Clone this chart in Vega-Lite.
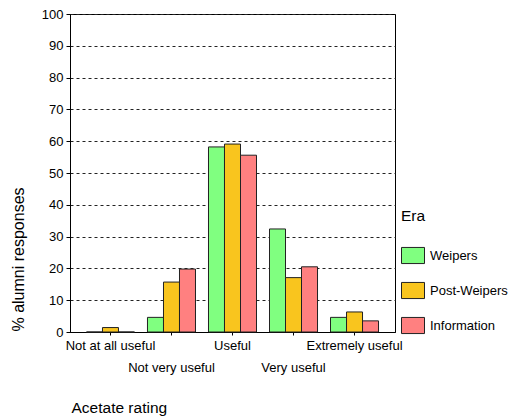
{
  "$schema": "https://vega.github.io/schema/vega-lite/v6.json",
  "width": 325,
  "height": 318,
  "autosize": {"type": "none"},
  "padding": {"left": 70, "top": 14, "right": 116, "bottom": 86},
  "background": "white",
  "config": {
    "font": "Liberation Sans",
    "view": {"stroke": "#000", "strokeWidth": 1}
  },
  "data": {
    "values": [
      {"rating": "Not at all useful", "era": "Weipers", "pct": 0},
      {"rating": "Not at all useful", "era": "Post-Weipers", "pct": 1.4},
      {"rating": "Not at all useful", "era": "Information", "pct": 0},
      {"rating": "Not very useful", "era": "Weipers", "pct": 4.6},
      {"rating": "Not very useful", "era": "Post-Weipers", "pct": 15.7},
      {"rating": "Not very useful", "era": "Information", "pct": 19.8},
      {"rating": "Useful", "era": "Weipers", "pct": 58.2},
      {"rating": "Useful", "era": "Post-Weipers", "pct": 59.1},
      {"rating": "Useful", "era": "Information", "pct": 55.6},
      {"rating": "Very useful", "era": "Weipers", "pct": 32.4},
      {"rating": "Very useful", "era": "Post-Weipers", "pct": 17.1},
      {"rating": "Very useful", "era": "Information", "pct": 20.5},
      {"rating": "Extremely useful", "era": "Weipers", "pct": 4.6},
      {"rating": "Extremely useful", "era": "Post-Weipers", "pct": 6.3},
      {"rating": "Extremely useful", "era": "Information", "pct": 3.5}
    ]
  },
  "mark": {"type": "bar", "stroke": "#222", "strokeWidth": 1},
  "encoding": {
    "x": {
      "field": "rating",
      "type": "nominal",
      "sort": ["Not at all useful", "Not very useful", "Useful", "Very useful", "Extremely useful"],
      "scale": {"paddingInner": 0.213, "paddingOuter": 0.27},
      "axis": {
        "title": "Acetate rating",
        "titleFontSize": 15.5,
        "titleFontWeight": "normal",
        "titleColor": "#000",
        "titleX": 1,
        "titleY": 75,
        "titleAlign": "left",
        "titleBaseline": "middle",
        "labelAngle": 0,
        "labelFontSize": 13,
        "labelColor": "#000",
        "labelPadding": 4,
        "labelLineHeight": 22,
        "labelBaseline": "top",
        "labelExpr": "indexof(['Not very useful','Very useful'], datum.label) >= 0 ? ['', datum.label] : datum.label",
        "domainColor": "#000",
        "tickColor": "#000",
        "tickSize": 3,
        "grid": false
      }
    },
    "xOffset": {
      "field": "era",
      "type": "nominal",
      "sort": ["Weipers", "Post-Weipers", "Information"],
      "scale": {"paddingInner": 0, "paddingOuter": 0}
    },
    "y": {
      "field": "pct",
      "type": "quantitative",
      "scale": {"domain": [0, 100], "nice": false},
      "axis": {
        "title": "% alumni responses",
        "titleFontSize": 16,
        "titleFontWeight": "normal",
        "titleColor": "#000",
        "titleX": -52,
        "titleY": 245,
        "titleAlign": "center",
        "titleBaseline": "middle",
        "values": [0, 10, 20, 30, 40, 50, 60, 70, 80, 90, 100],
        "labelFontSize": 13,
        "labelColor": "#000",
        "labelPadding": 3,
        "domainColor": "#000",
        "tickColor": "#000",
        "tickSize": 4,
        "grid": true,
        "gridColor": "#222",
        "gridDash": [3, 3],
        "gridOpacity": 1
      }
    },
    "fill": {
      "field": "era",
      "type": "nominal",
      "sort": ["Weipers", "Post-Weipers", "Information"],
      "scale": {
        "domain": ["Weipers", "Post-Weipers", "Information"],
        "range": ["#80FF80", "#F9C51E", "#FF8080"]
      },
      "legend": {
        "title": "Era",
        "orient": "none",
        "legendX": 331,
        "legendY": 195,
        "titleFontSize": 15.5,
        "titleFontWeight": "normal",
        "titleColor": "#000",
        "titlePadding": 19,
        "labelFontSize": 13,
        "labelColor": "#000",
        "labelOffset": 5,
        "symbolType": "M-1,-0.7H1V0.7H-1Z",
        "symbolSize": 529,
        "symbolStrokeColor": "#222",
        "symbolStrokeWidth": 1,
        "symbolOpacity": 1,
        "rowPadding": 12
      }
    }
  }
}
